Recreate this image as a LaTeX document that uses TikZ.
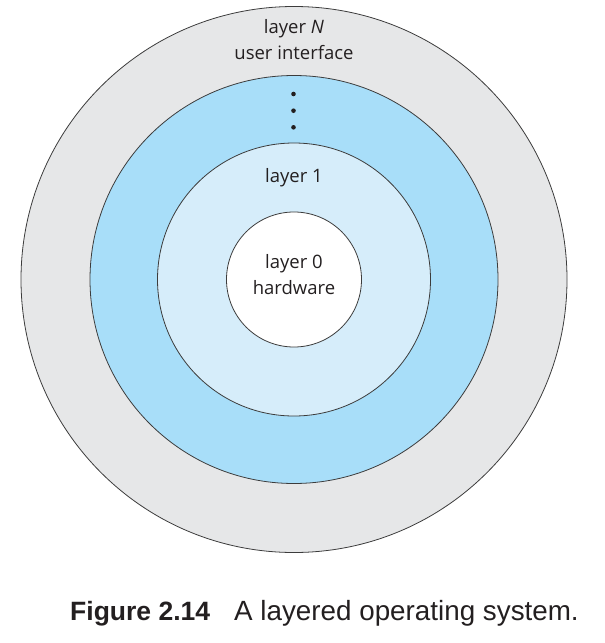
\documentclass[tikz,border=0pt]{standalone}
\usepackage{fontspec}
\setmainfont{Open Sans}
\newfontfamily\capfont{Liberation Sans}
\definecolor{ringgray}{RGB}{230,231,232}
\definecolor{ringblue}{RGB}{168,222,249}
\definecolor{ringlight}{RGB}{214,237,250}
\definecolor{ringline}{RGB}{60,60,60}
\definecolor{txt}{RGB}{35,31,32}
\begin{document}
\begin{tikzpicture}[x=1pt,y=-1pt,
  ring/.style={circle, draw=ringline, line width=0.8pt, inner sep=0pt},
  lbl/.style={inner sep=0pt, text=txt, font=\fontsize{18.5}{22}\selectfont},
  dotnode/.style={circle, fill=txt, inner sep=0pt, minimum size=4.6pt},
  capb/.style={inner sep=0pt, anchor=base west, text=txt, font=\capfont\bfseries\fontsize{26.5}{30}\selectfont},
  capr/.style={inner sep=0pt, anchor=base west, text=txt, font=\capfont\fontsize{27.8}{32}\selectfont}]
\useasboundingbox (0,0) rectangle (605,643);
\node[ring, fill=ringgray, minimum size=546pt] (outer) at (294,279.5) {};
\node[ring, fill=ringblue, minimum size=408pt] (blue) at (294,279.5) {};
\node[ring, fill=ringlight, minimum size=273pt] (light) at (294,279.5) {};
\node[ring, fill=white, minimum size=135pt] (core) at (294,279.5) {};
\node[lbl] (layerN) at (294,29) {layer \textit{N}};
\node[lbl] (ui) at (294,53) {user interface};
\node[dotnode] (d1) at (293.5,94) {};
\node[dotnode] (d2) at (293.5,110.7) {};
\node[dotnode] (d3) at (293.5,127.3) {};
\node[lbl] (layer1) at (294,178) {layer 1};
\node[lbl] (layer0) at (294,264) {layer 0};
\node[lbl] (hw) at (294,288) {hardware};
\node[capb] (capnum) at (70,620) {Figure 2.14};
\node[capr] (captext) at (234,620) {A layered operating system.};
\end{tikzpicture}
\end{document}
